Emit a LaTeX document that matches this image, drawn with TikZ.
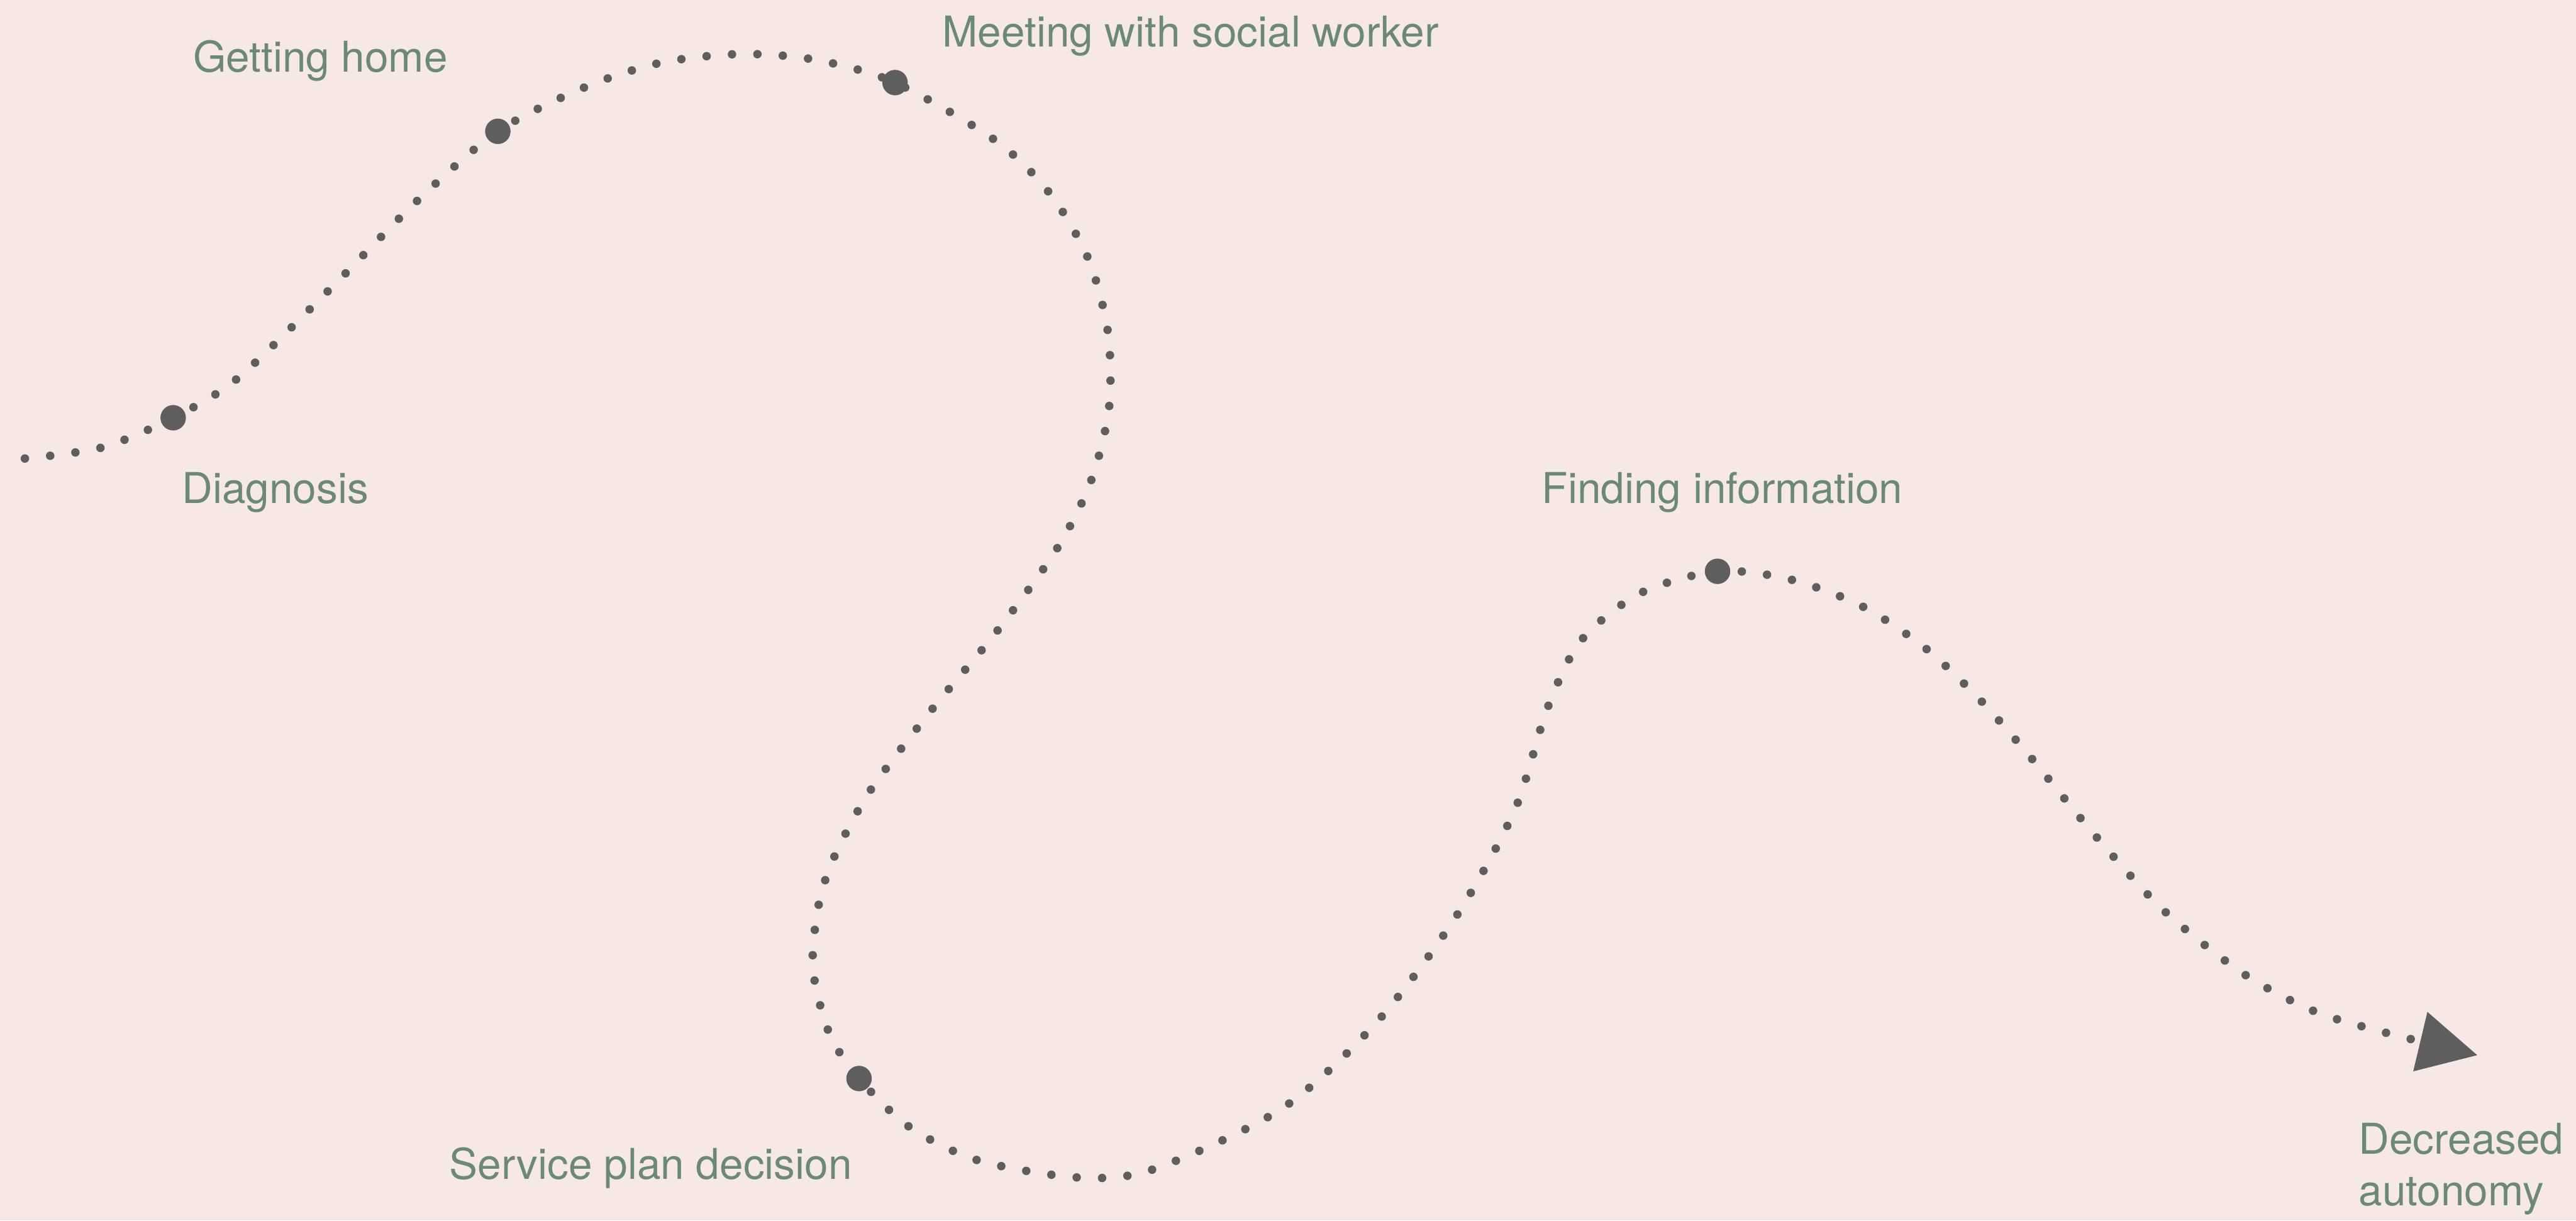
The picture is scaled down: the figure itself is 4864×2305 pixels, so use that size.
\documentclass[tikz,border=0pt]{standalone}
\usepackage{fontspec}
\setmainfont{TeX Gyre Heros}
\usetikzlibrary{arrows.meta}
\definecolor{paper}{RGB}{246,232,228}
\definecolor{labelgreen}{RGB}{106,138,116}
\definecolor{ink}{RGB}{94,94,94}
\begin{document}
\begin{tikzpicture}[x=0.01cm,y=-0.01cm,
  stage/.style={circle,fill=ink,inner sep=0pt,minimum size=0.48cm},
  caption/.style={anchor=base west,inner sep=0pt,text=labelgreen,align=left,
    font=\fontsize{22.8pt}{27.6pt}\selectfont},
  journey/.style={draw=ink,line width=0.16cm,line cap=round,
    dash pattern=on 0pt off 0.48cm}]
% canvas
\fill[paper] (0,0) rectangle (4864,2305);
\useasboundingbox (0,0) rectangle (4864,2305);

% milestones on the path
\node[stage] (diag) at (327,789) {};
\node[stage] (home) at (940,248) {};
\node[stage] (meet) at (1690,156) {};
\node[stage] (serv) at (1622,2037) {};
\node[stage] (find) at (3243,1079) {};
\coordinate (start) at (47,866);
\coordinate (finish) at (4678,1993);

% dotted journey line
\draw[journey,-{Triangle[length=1.11cm,width=1.11cm]}]
  plot[smooth,tension=0.5] coordinates {
    (start) (193,845) (diag.center) (448,715) (622,547) (789,378)
    (home.center) (1106,164) (1250,118) (1400,102) (1540,113)
    (meet.center) (1879,265) (1982,365) (2055,489) (2092,628)
    (2094,771) (2059,911) (1994,1039) (1881,1194) (1758,1342)
    (1642,1495) (1574,1621) (1545,1713) (1535,1830) (1566,1952)
    (serv.center) (1718,2129) (1848,2192) (2037,2224) (2179,2208)
    (2420,2094) (2600,1930) (2750,1730) (2860,1530) (2922,1337)
    (2986,1209) (3098,1120) (find.center) (3379,1094) (3514,1144)
    (3634,1223) (3739,1322) (3834,1430) (3956,1578) (4086,1720)
    (4236,1839) (4370,1910) (4503,1950) (finish)};

% labels
\node[caption] (t-home) at (364,136) {Getting home};
\node[caption] (t-meet) at (1779,88) {Meeting with social worker};
\node[caption] (t-diag) at (343,951) {Diagnosis};
\node[caption] (t-find) at (2911,951) {Finding information};
\node[caption] (t-serv) at (848,2227) {Service plan decision};
\node[caption] (t-end) at (4453,2277) {Decreased\\autonomy};
\end{tikzpicture}
\end{document}
